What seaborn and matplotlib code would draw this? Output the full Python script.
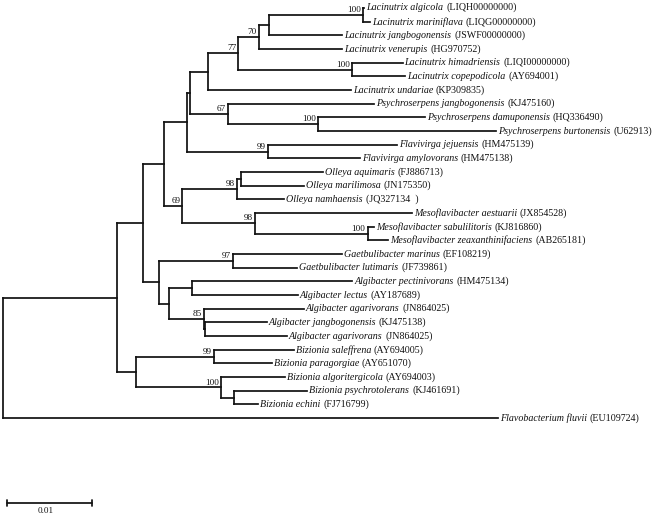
import matplotlib
matplotlib.use("Agg")
import matplotlib.pyplot as plt
import seaborn as sns
import pandas as pd

# leaves, top to bottom
taxa = [
    "Lacinutrix algicola", "Lacinutrix mariniflava", "Lacinutrix jangbogonensis",
    "Lacinutrix venerupis", "Lacinutrix himadriensis", "Lacinutrix copepodicola",
    "Lacinutrix undariae", "Psychroserpens jangbogonensis", "Psychroserpens damuponensis",
    "Psychroserpens burtonensis", "Flavivirga jejuensis", "Flavivirga amylovorans",
    "Olleya aquimaris", "Olleya marilimosa", "Olleya namhaensis",
    "Mesoflavibacter aestuarii", "Mesoflavibacter sabulilitoris",
    "Mesoflavibacter zeaxanthinifaciens", "Gaetbulibacter marinus",
    "Gaetbulibacter lutimaris", "Algibacter pectinivorans", "Algibacter lectus",
    "Algibacter agarivorans", "Algibacter jangbogonensis", "Algibacter agarivorans",
    "Bizionia saleffrena", "Bizionia paragorgiae", "Bizionia algoritergicola",
    "Bizionia psychrotolerans", "Bizionia echini", "Flavobacterium fluvii",
]
accessions = [
    "LIQH00000000", "LIQG00000000", "JSWF00000000", "HG970752", "LIQI00000000",
    "AY694001", "KP309835", "KJ475160", "HQ336490", "U62913", "HM475139",
    "HM475138", "FJ886713", "JN175350", "JQ327134  ", "JX854528", "KJ816860",
    "AB265181", "EF108219", "JF739861", "HM475134", "AY187689", "JN864025",
    "KJ475138", "JN864025", "AY694005", "AY651070", "AY694003", "KJ461691",
    "FJ716799", "EU109724",
]
leaf_parent = [
    "J", "J", "I", "H", "K", "K", "F", "L", "M", "M", "N", "N", "Q", "Q", "P",
    "S", "T", "T", "V", "V", "X", "X", "Y", "Z", "Z", "CC", "CC", "DD", "EE",
    "EE", "root",
]
leaf_length = [
    0.0001, 0.0008, 0.0086, 0.0098, 0.0059, 0.0062, 0.0168, 0.0172, 0.0125,
    0.0209, 0.0152, 0.0108, 0.0096, 0.0074, 0.0056, 0.0184, 0.0007, 0.0024,
    0.0128, 0.0075, 0.0189, 0.0125, 0.0118, 0.0072, 0.0096, 0.0094, 0.0068,
    0.0075, 0.0086, 0.0028, 0.0582,
]

# internal nodes, parents listed before children
inner_nodes = ["root", "A", "B", "C", "D", "E", "F", "G", "H", "I", "J", "K",
               "L", "M", "N", "O", "P", "Q", "S", "T", "U", "V", "W", "X", "Y",
               "Z", "BB", "CC", "DD", "EE"]
inner_parent = [None, "root", "A", "B", "C", "D", "E", "F", "G", "H", "I", "G",
                "E", "L", "D", "C", "O", "P", "O", "S", "B", "U", "U", "W", "W",
                "Y", "A", "BB", "BB", "DD"]
inner_length = [0.0, 0.0134, 0.0031, 0.0024, 0.0027, 0.0004, 0.0021, 0.0036,
                0.0024, 0.0012, 0.0111, 0.0134, 0.0045, 0.0106, 0.0096, 0.0022,
                0.0064, 0.0005, 0.0086, 0.0132, 0.0019, 0.0087, 0.0011, 0.0027,
                0.0041, 0.0002, 0.0022, 0.0092, 0.0101, 0.0015]
inner_support = [None, None, None, None, None, None, None, 77, 70, None, 100,
                 100, 67, 100, 99, 69, 98, None, 98, 100, None, 97, None, None,
                 85, None, None, 99, 100, None]

# ---- layout
xpos = {"root": 0.0}
for n, p, l in zip(inner_nodes[1:], inner_parent[1:], inner_length[1:]):
    xpos[n] = xpos[p] + l
children = {n: [] for n in inner_nodes}
ypos = {}
for i, (p, l) in enumerate(zip(leaf_parent, leaf_length)):
    xpos[i] = xpos[p] + l
    ypos[i] = i
    children[p].append(i)
for n, p in zip(inner_nodes[1:], inner_parent[1:]):
    children[p].append(n)
for n in reversed(inner_nodes):
    ys = [ypos[c] for c in children[n]]
    ypos[n] = (min(ys) + max(ys)) / 2

parent_of = dict(zip(inner_nodes[1:], inner_parent[1:]))
parent_of.update({i: p for i, p in enumerate(leaf_parent)})

rows = []
seg = 0
for c, p in parent_of.items():
    rows += [(xpos[p], ypos[c], seg), (xpos[c], ypos[c], seg)]
    seg += 1
for n in inner_nodes:
    ys = [ypos[c] for c in children[n]]
    rows += [(xpos[n], min(ys), seg), (xpos[n], max(ys), seg)]
    seg += 1
segs = pd.DataFrame(rows, columns=["x", "y", "seg"])

# ---- plot
sns.set_style("white")
plt.rcParams["font.family"] = ["Liberation Serif", "DejaVu Serif"]

fig = plt.figure(figsize=(6.52, 5.16), dpi=100)
ax = fig.add_axes([0, 0, 1, 1])

sns.lineplot(data=segs, x="x", y="y", units="seg", estimator=None, sort=False,
             color="#111111", linewidth=1.25, solid_capstyle="projecting",
             legend=False, ax=ax)

px = 8500  # pixels per unit of distance
row = 13.67
ax.set_xlim(-3 / px, 649 / px)
ax.set_ylim((516 - 8) / row, -8 / row)
ax.axis("off")

for i, (name, acc) in enumerate(zip(taxa, accessions)):
    t = ax.annotate(name, (xpos[i], ypos[i]), xytext=(1.5, 0),
                    textcoords="offset points", ha="left", va="center",
                    style="italic", fontsize=7.2, color="#111111")
    ax.annotate("(" + acc + ")", xy=(1, 0), xycoords=t, xytext=(2.0, 0),
                textcoords="offset points", ha="left", va="bottom",
                fontsize=7.2, color="#111111")

for n, s in zip(inner_nodes, inner_support):
    if s is not None:
        ax.annotate(str(s), (xpos[n], ypos[n]), xytext=(-1.5, 0.6),
                    textcoords="offset points", ha="right", va="bottom",
                    fontsize=6.6, color="#111111")

# scale bar
bar = 0.01
x0 = 4 / px
yb = (503 - 8) / row
ax.plot([x0, x0 + bar], [yb, yb], color="#111111", lw=1.25)
ax.plot([x0, x0], [yb - 0.2, yb + 0.2], color="#111111", lw=1.25)
ax.plot([x0 + bar, x0 + bar], [yb - 0.2, yb + 0.2], color="#111111", lw=1.25)
ax.annotate("0.01", (x0 + bar / 2, yb), xytext=(-3, -3), textcoords="offset points",
            ha="center", va="top", fontsize=6.6, color="#111111")

fig.savefig("out.png", dpi=100)
